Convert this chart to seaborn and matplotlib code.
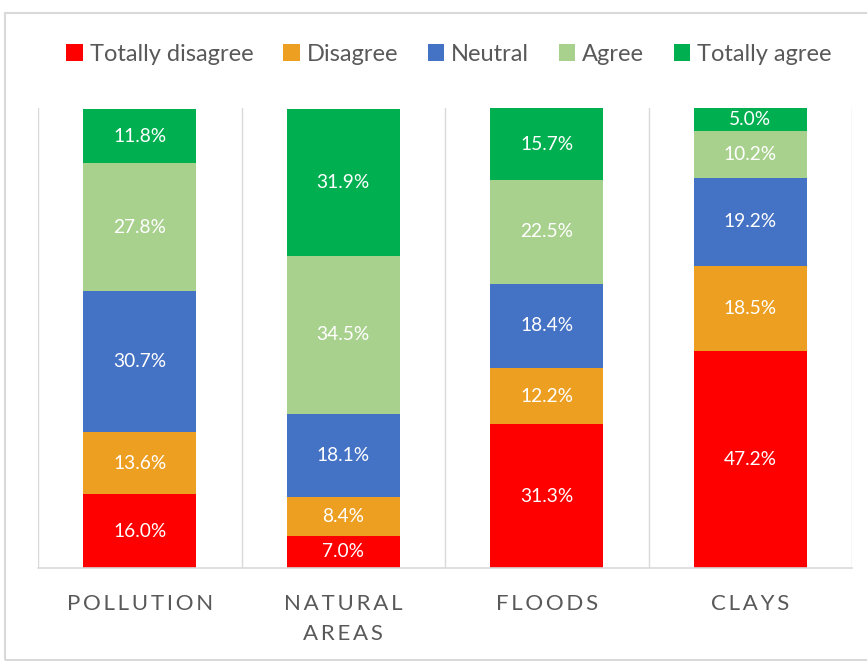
import matplotlib
matplotlib.use("Agg")
import matplotlib.pyplot as plt
import seaborn as sns
import numpy as np
from matplotlib.patches import Rectangle

categories = ["POLLUTION", "NATURAL\nAREAS", "FLOODS", "CLAYS"]
series_names = ["Totally disagree", "Disagree", "Neutral", "Agree", "Totally agree"]
totally_disagree = [16.0, 7.0, 31.3, 47.2]
disagree = [13.6, 8.4, 12.2, 18.5]
neutral = [30.7, 18.1, 18.4, 19.2]
agree = [27.8, 34.5, 22.5, 10.2]
totally_agree = [11.8, 31.9, 15.7, 5.0]
colors = ["#FF0000", "#ED9F22", "#4472C4", "#A9D18E", "#00B050"]

series = [totally_disagree, disagree, neutral, agree, totally_agree]

sns.set_theme(style="white")
plt.rcParams['font.family'] = ['Lato', 'DejaVu Sans']

fig = plt.figure(figsize=(8.67, 6.61), dpi=100)
ax = fig.add_axes([0.0438, 0.1407, 0.9390, 0.6959])

def spaced(s):
    return "\n".join("\u2009".join(list(line)) for line in s.split("\n"))

bottom = np.zeros(len(categories))
for name, vals, col in zip(series_names, series, colors):
    sns.barplot(x=list(range(len(categories))), y=vals, bottom=bottom, color=col,
                width=0.555, ax=ax, label=name, saturation=1, linewidth=0)
    cont = ax.containers[-1]
    ax.bar_label(cont, labels=[f"{v:.1f}%" for v in vals], label_type="center",
                 color="white", fontsize=13.8)
    bottom = bottom + np.array(vals)

ax.set_xlim(-0.5, len(categories) - 0.5)
ax.set_ylim(0, 100.1)
ax.set_yticks([])
for s in ["left", "right", "top"]:
    ax.spines[s].set_visible(False)
ax.spines["bottom"].set_color("#D9D9D9")
ax.spines["bottom"].set_linewidth(1.2)
for xb in np.arange(-0.5, len(categories), 1.0):
    ax.axvline(xb, color="#D9D9D9", linewidth=1, zorder=0)

ax.set_xticks(range(len(categories)))
ax.set_xticklabels([spaced(c) for c in categories], color="#595959", fontsize=16,
                   linespacing=1.6, va="top")
ax.tick_params(axis="x", length=0, pad=19)
ax.set_xlabel("")
ax.set_ylabel("")

handles, labels = ax.get_legend_handles_labels()
leg = fig.legend(handles, labels, loc="center", bbox_to_anchor=(0.518, 0.918), ncol=5,
                 frameon=False, fontsize=17, handlelength=0.7, handleheight=0.7,
                 handletextpad=0.3, columnspacing=1.25, labelcolor="#595959")
if ax.get_legend():
    ax.get_legend().remove()

fig.patches.append(Rectangle((5 / 867, 1 - 660 / 661), 1.2, (660 - 13) / 661,
                             transform=fig.transFigure, fill=False,
                             edgecolor="#D9D9D9", linewidth=1.5))

fig.savefig("out.png", dpi=100)
